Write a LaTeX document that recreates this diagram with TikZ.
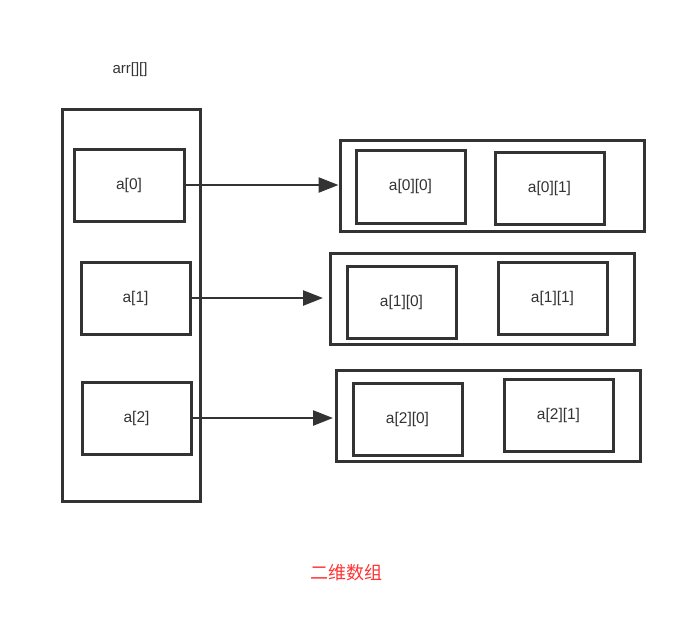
\documentclass[tikz,border=0pt]{standalone}
\usepackage{fontspec}
\setmainfont{Liberation Sans}
\newfontfamily\cjk{Noto Sans CJK SC}
\usetikzlibrary{arrows.meta}
\definecolor{ink}{HTML}{333333}
\definecolor{redtxt}{HTML}{FF3333}
\begin{document}
\begin{tikzpicture}[x=1pt,y=-1pt,
  box/.style={draw=ink,line width=3pt},
  cell/.style={box,inner sep=0pt,font=\fontsize{15.5}{18}\selectfont,text=ink},
  link/.style={draw=ink,line width=2.4pt,-{Triangle[length=20pt,width=15pt]}}]
\useasboundingbox (0,0) rectangle (700,619);
\node[text=ink,font=\fontsize{15}{18}\selectfont] (lbl) at (130,70) {arr[][]};
\draw[box] (62,109) rectangle (200,501);
\node[cell,minimum width=110pt,minimum height=72pt] (a0) at (129,185) {a[0]};
\node[cell,minimum width=109pt,minimum height=72pt] (a1) at (135.5,298) {a[1]};
\node[cell,minimum width=109pt,minimum height=72pt] (a2) at (136.5,418) {a[2]};
% rows
\node[box,minimum width=304pt,minimum height=91pt,inner sep=0pt] (r0) at (492,185.5) {};
\node[box,minimum width=304pt,minimum height=91pt,inner sep=0pt] (r1) at (482,298.5) {};
\node[box,minimum width=304pt,minimum height=91pt,inner sep=0pt] (r2) at (488,415.5) {};
\node[cell,minimum width=109pt,minimum height=73pt] (a00) at (410.5,186.5) {a[0][0]};
\node[cell,minimum width=109pt,minimum height=72pt] (a01) at (549.5,188) {a[0][1]};
\node[cell,minimum width=109pt,minimum height=72pt] (a10) at (401.5,302) {a[1][0]};
\node[cell,minimum width=109pt,minimum height=72pt] (a11) at (552.5,298) {a[1][1]};
\node[cell,minimum width=109pt,minimum height=72pt] (a20) at (407.5,419) {a[2][0]};
\node[cell,minimum width=109pt,minimum height=72pt] (a21) at (558.5,415) {a[2][1]};
\coordinate (e1) at (323,298);
\coordinate (e2) at (333,418);
\draw[link] (a0.east) -- (r0.west |- a0.east);
\draw[link] (a1.east) -- (e1);
\draw[link] (a2.east) -- (e2);
\node[text=redtxt,font=\cjk\fontsize{18}{22}\selectfont] (title) at (346,573) {二维数组};
\end{tikzpicture}
\end{document}
